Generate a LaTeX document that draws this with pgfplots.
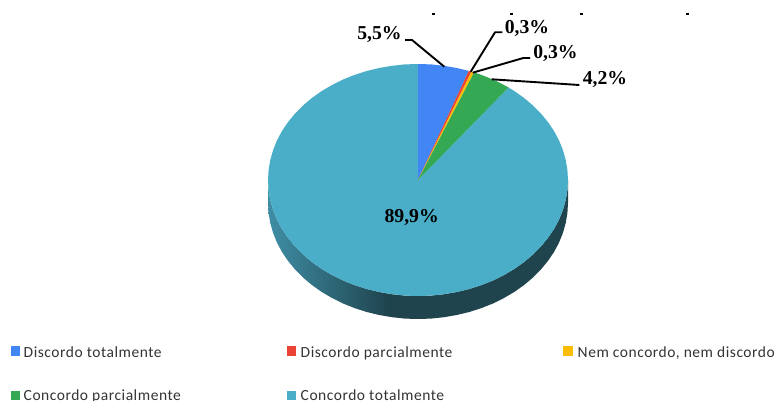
\documentclass[border=0pt]{standalone}
\usepackage{pgfplots}
\pgfplotsset{compat=1.18}
\usepackage{fontspec}
\setmainfont{Liberation Serif}
\newfontfamily\legendfont[LetterSpace=3.5]{Carlito}
\definecolor{cblue}{HTML}{4285F4}
\definecolor{cred}{HTML}{EA4335}
\definecolor{cyel}{HTML}{FBBC04}
\definecolor{cgreen}{HTML}{34A853}
\definecolor{cteal}{HTML}{4BAEC8}
\definecolor{wallA}{HTML}{3F8EA5}
\definecolor{wallB}{HTML}{1F444E}
\definecolor{txt}{HTML}{333333}
\pgfdeclarehorizontalshading{wall}{100bp}{color(0bp)=(wallA);color(25bp)=(wallA);color(45bp)=(wallB);color(100bp)=(wallB)}
\tikzset{
  lbl/.style={font=\fontsize{19.7}{20}\selectfont\bfseries,text=black,inner sep=0pt,anchor=center},
  lg/.style={font=\fontsize{15.5}{16}\selectfont\legendfont,text=txt,inner sep=0pt,anchor=base west},
  leader/.style={black,line width=1.9pt,line join=round},
}
\begin{document}
\begin{tikzpicture}
\path[use as bounding box] (0,0) rectangle (776pt,401pt);
\begin{axis}[
  at={(0,0)},anchor=south west,scale only axis,width=776pt,height=401pt,
  xmin=0,xmax=776,ymin=0,ymax=401,y dir=reverse,hide axis,
]
% side wall
\addplot[shading=wall,draw=none] coordinates {
(568,180)(567.4,190.1)(565.7,200.1)(562.9,210)(559,219.7)(554,229)(547.9,238)(540.9,246.5)(532.9,254.6)(524.1,262)(514.4,268.9)(504,275)(493,280.5)(481.4,285.1)(469.3,289)(456.8,292)(444,294.2)(431.1,295.6)(418,296)(404.9,295.6)(392,294.2)(379.2,292)(366.7,289)(354.6,285.1)(343,280.5)(332,275)(321.6,268.9)(311.9,262)(303.1,254.6)(295.1,246.5)(288.1,238)(282,229)(277,219.7)(273.1,210)(270.3,200.1)(268.6,190.1)(268,180)
(268,203)(268.6,213.1)(270.3,223.1)(273.1,233)(277,242.7)(282,252)(288.1,261)(295.1,269.5)(303.1,277.6)(311.9,285)(321.6,291.9)(332,298)(343,303.5)(354.6,308.1)(366.7,312)(379.2,315)(392,317.2)(404.9,318.6)(418,319)(431.1,318.6)(444,317.2)(456.8,315)(469.3,312)(481.4,308.1)(493,303.5)(504,298)(514.4,291.9)(524.1,285)(532.9,277.6)(540.9,269.5)(547.9,261)(554,252)(559,242.7)(562.9,233)(565.7,223.1)(567.4,213.1)(568,203)
} -- cycle;
% Concordo totalmente 89,9%
\addplot[fill=cteal,draw=none] coordinates {
(418,180)(508.5,87.5)(514.4,91.1)(524.1,98)(532.9,105.4)(540.9,113.5)(547.9,122)(554,131)(559,140.3)(562.9,150)(565.7,159.9)(567.4,169.9)(568,180)(567.4,190.1)(565.7,200.1)(562.9,210)(559,219.7)(554,229)(547.9,238)(540.9,246.5)(532.9,254.6)(524.1,262)(514.4,268.9)(504,275)(493,280.5)(481.4,285.1)(469.3,289)(456.8,292)(444,294.2)(431.1,295.6)(418,296)(404.9,295.6)(392,294.2)(379.2,292)(366.7,289)(354.6,285.1)(343,280.5)(332,275)(321.6,268.9)(311.9,262)(303.1,254.6)(295.1,246.5)(288.1,238)(282,229)(277,219.7)(273.1,210)(270.3,200.1)(268.6,190.1)(268,180)(268.6,169.9)(270.3,159.9)(273.1,150)(277,140.3)(282,131)(288.1,122)(295.1,113.5)(303.1,105.4)(311.9,98)(321.6,91.1)(332,85)(343,79.5)(354.6,74.9)(366.7,71)(379.2,68)(392,65.8)(404.9,64.4)(418,64)
} -- cycle;
% Discordo totalmente 5,5%
\addplot[fill=cblue,draw=none] coordinates {(418,180)(418,64)(431.1,64.4)(444,65.8)(456.8,68)(468.8,70.9)} -- cycle;
% Discordo parcialmente 0,3%
\addplot[fill=cred,draw=none] coordinates {(418,180)(468.8,70.9)(471.5,71.6)} -- cycle;
% Nem concordo 0,3%
\addplot[fill=cyel,draw=none] coordinates {(418,180)(471.5,71.6)(474.1,72.4)} -- cycle;
% Concordo parcialmente 4,2%
\addplot[fill=cgreen,draw=none] coordinates {(418,180)(474.1,72.4)(481.4,74.9)(493,79.5)(504,85)(508.5,87.5)} -- cycle;
% leaders
\addplot[leader] coordinates {(405,40)(412,40)(444.3,66.7)};
\addplot[leader] coordinates {(502.3,32.3)(495,32.3)(470.7,71.7)};
\addplot[leader] coordinates {(530,58)(523.3,58)(472.7,72.7)};
\addplot[leader] coordinates {(579.3,85)(491.7,79.3)};
% clipped title remnants
\addplot[black,line width=1.2pt] coordinates {(431.5,14)(434.5,14)};
\addplot[black,line width=1.2pt] coordinates {(510,14)(513,14)};
\addplot[black,line width=1.2pt] coordinates {(579.5,14)(582.5,14)};
\addplot[black,line width=1.2pt] coordinates {(686,14)(689,14)};
% labels
\node[lbl] at (axis cs:379.5,34.5) {5,5\%};
\node[lbl] at (axis cs:527,28) {0,3\%};
\node[lbl] at (axis cs:555.5,53) {0,3\%};
\node[lbl] at (axis cs:605,79.5) {4,2\%};
\node[lbl] at (axis cs:411.7,217) {89,9\%};
% legend
\addplot[fill=cblue,draw=none] coordinates {(11,346)(20,346)(20,356)(11,356)} -- cycle;
\addplot[fill=cred,draw=none] coordinates {(287,346)(296,346)(296,356)(287,356)} -- cycle;
\addplot[fill=cyel,draw=none] coordinates {(563,346)(573,346)(573,356)(563,356)} -- cycle;
\addplot[fill=cgreen,draw=none] coordinates {(11,391)(20,391)(20,400)(11,400)} -- cycle;
\addplot[fill=cteal,draw=none] coordinates {(287,391)(296,391)(296,400)(287,400)} -- cycle;
\node[lg] at (axis cs:23.5,357) {Discordo totalmente};
\node[lg] at (axis cs:300.5,357) {Discordo parcialmente};
\node[lg] at (axis cs:577.5,357) {Nem concordo, nem discordo};
\node[lg] at (axis cs:23.5,400) {Concordo parcialmente};
\node[lg] at (axis cs:300.5,400) {Concordo totalmente};
\end{axis}
\end{tikzpicture}
\end{document}
